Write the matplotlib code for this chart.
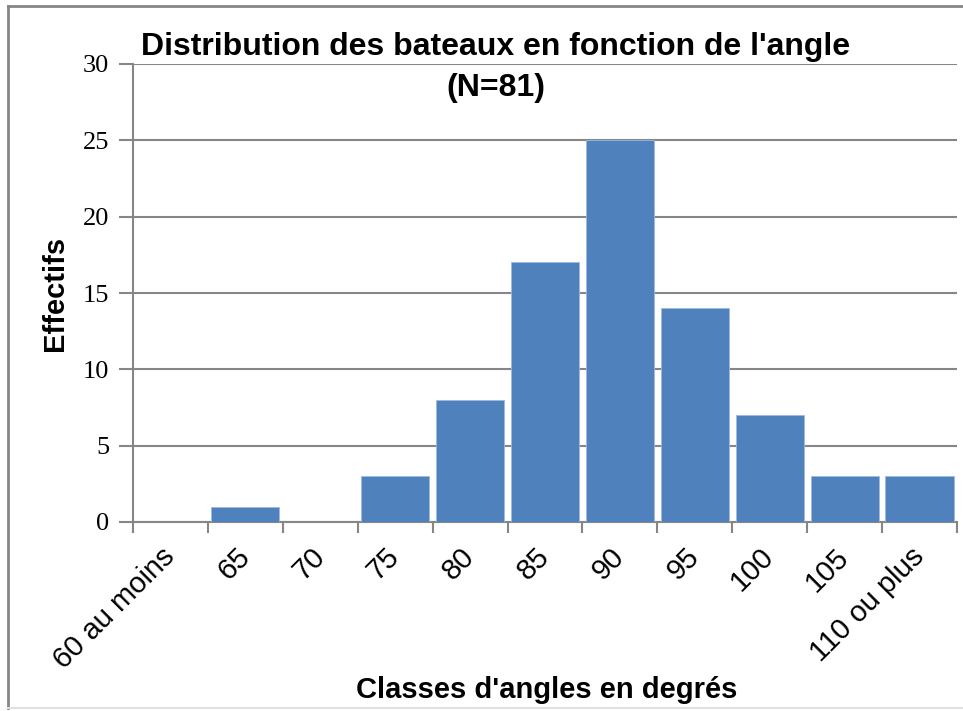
import matplotlib.pyplot as plt
import numpy as np

# angle classes and number of boats per class
classes = ["60 au moins", "65", "70", "75", "80", "85", "90", "95", "100", "105", "110 ou plus"]
effectifs = [0, 1, 0, 3, 8, 17, 25, 14, 7, 3, 3]
yticks = [0, 5, 10, 15, 20, 25, 30]

bar_color = "#4F81BD"
grey = "#868686"
sans = "Liberation Sans"
serif = "Liberation Serif"

W, H = 963, 711
fig = plt.figure(figsize=(W / 100, H / 100), dpi=100)
ax = fig.add_axes([133 / W, 1 - 522 / H, (957 - 133) / W, (522 - 64) / H])

x = np.arange(len(classes))
ax.bar(x, effectifs, width=0.91, color=bar_color, edgecolor="#9dbbe0",
       linewidth=0.6, zorder=3)

ax.set_xlim(-0.5, len(classes) - 0.5)
ax.set_ylim(0, 30)

# y axis: gridlines every 5, serif tick labels
ax.set_yticks(yticks)
ax.set_yticklabels([str(v) for v in yticks], fontfamily=serif, fontsize=19)
ax.yaxis.grid(True, color=grey, linewidth=1.5, zorder=0)
ax.tick_params(axis="y", length=10, width=1.5, color=grey, pad=7)

# x axis: tick marks between classes, labels rotated under each class
ax.set_xticks(x)
ax.set_xticklabels(classes, rotation=45, ha="right", va="center",
                   rotation_mode="anchor", fontfamily=sans, fontsize=21)
ax.set_xticks(np.arange(-0.5, len(classes)), minor=True)
ax.tick_params(axis="x", which="major", length=0, pad=22)
ax.tick_params(axis="x", which="minor", length=8, width=1.5, color=grey)

for side in ("top", "right"):
    ax.spines[side].set_visible(False)
for side in ("left", "bottom"):
    ax.spines[side].set_color(grey)
    ax.spines[side].set_linewidth(1.5)

# titles
fig.text(496 / W, 1 - 55 / H, "Distribution des bateaux en fonction de l'angle",
         ha="center", va="baseline", fontfamily=sans, fontweight="bold", fontsize=23)
fig.text(496 / W, 1 - 96 / H, f"(N={sum(effectifs)})",
         ha="center", va="baseline", fontfamily=sans, fontweight="bold", fontsize=23)
fig.text(55 / W, 1 - 293 / H, "Effectifs", rotation=90, ha="center", va="center",
         fontfamily=sans, fontweight="bold", fontsize=21)
fig.text(547 / W, 1 - 690 / H, "Classes d'angles en degrés", ha="center", va="center",
         fontfamily=sans, fontweight="bold", fontsize=21)

# chart frame
fig.add_artist(plt.Line2D([8 / W, 1], [1 - 6 / H, 1 - 6 / H], color=grey, linewidth=2))
fig.add_artist(plt.Line2D([8 / W, 8 / W], [1 - 6 / H, 1 - 708 / H], color=grey, linewidth=2))
fig.add_artist(plt.Line2D([8 / W, 1], [1 - 708 / H, 1 - 708 / H], color="#e0e0e0", linewidth=1.5))

fig.savefig("out.png", dpi=100)
